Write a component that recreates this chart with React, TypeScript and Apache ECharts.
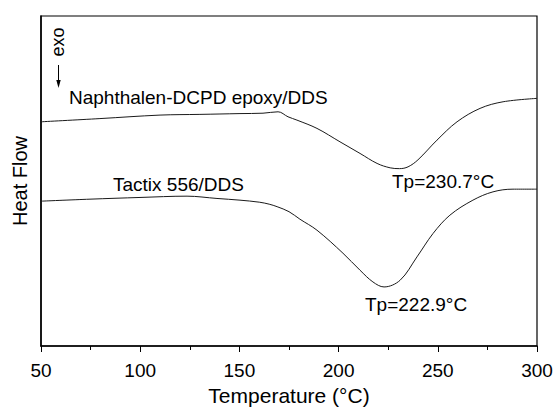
import React, { useEffect, useRef } from "react";
import * as echarts from "echarts";

// DSC curves, temperature (°C) vs. heat flow (arbitrary units, exo down)
const naphTemp = [50, 79.7, 110, 130.1, 150.3, 161.9, 169.5, 174.5, 179, 189.1, 200.7, 210.8, 219.4, 226, 230.7, 235, 240, 249.6, 259.7, 271.3, 282.9, 300];
const naphFlow = [2.24, 2.272, 2.307, 2.314, 2.322, 2.326, 2.34, 2.29, 2.257, 2.174, 2.04, 1.924, 1.824, 1.78, 1.772, 1.79, 1.86, 2.057, 2.24, 2.374, 2.44, 2.474];

const tactixTemp = [50, 74.7, 99.9, 123.6, 138.7, 150.3, 160, 165, 169, 175, 180.5, 189.1, 202.2, 210.8, 217.3, 222.9, 231, 239.5, 247.6, 256.1, 267.7, 277.8, 287.9, 300];
const tactixFlow = [1.447, 1.467, 1.484, 1.497, 1.474, 1.457, 1.437, 1.417, 1.392, 1.342, 1.267, 1.157, 0.927, 0.757, 0.64, 0.59, 0.657, 0.89, 1.124, 1.307, 1.457, 1.54, 1.567, 1.567];

const xTicks = { min: 50, max: 300, interval: 50 };
const yRange = { min: 0, max: 3.297 };

const FONT = "'Liberation Sans', Arial, Helvetica, sans-serif";

export default function App() {
  const ref = useRef<HTMLDivElement>(null);

  useEffect(() => {
    if (!ref.current) return;
    const chart = echarts.init(ref.current, undefined, { renderer: "svg" });

    const toPairs = (xs: number[], ys: number[]) => xs.map((x, i) => [x, ys[i]]);
    const lineStyle = { color: "#1a1a1a", width: 1 };
    const note = (text: string, x: number, y: number) => ({
      type: "text",
      x,
      y,
      style: { text, fill: "#000", font: `19px ${FONT}`, verticalAlign: "middle" },
    });

    chart.setOption({
      animation: false,
      backgroundColor: "#fff",
      grid: {
        left: 41,
        right: 16,
        top: 16,
        bottom: 61,
        outerBoundsMode: "none",
        containLabel: false,
        show: true,
        borderColor: "#000",
        borderWidth: 1.2,
      },
      xAxis: {
        type: "value",
        min: xTicks.min,
        max: xTicks.max,
        interval: xTicks.interval,
        name: "Temperature (°C)",
        nameLocation: "middle",
        nameGap: 35,
        nameTextStyle: { color: "#000", fontSize: 21, fontFamily: FONT },
        axisLine: { show: true, lineStyle: { color: "#000", width: 1.5 } },
        axisTick: { show: true, inside: false, length: 6, lineStyle: { color: "#000", width: 1 } },
        minorTick: { show: true, splitNumber: 2, length: 4, lineStyle: { color: "#000", width: 1 } },
        axisLabel: { color: "#000", fontSize: 19, fontFamily: FONT, margin: 15 },
        splitLine: { show: false },
      },
      yAxis: {
        type: "value",
        min: yRange.min,
        max: yRange.max,
        name: "Heat Flow",
        nameLocation: "middle",
        nameGap: 11,
        nameTextStyle: { color: "#000", fontSize: 20, fontFamily: FONT },
        axisLine: { show: true, lineStyle: { color: "#000", width: 1.5 } },
        axisTick: { show: false },
        axisLabel: { show: false },
        splitLine: { show: false },
      },
      series: [
        {
          name: "Naphthalen-DCPD epoxy/DDS",
          type: "line",
          data: toPairs(naphTemp, naphFlow),
          smooth: 0.35,
          showSymbol: false,
          lineStyle,
        },
        {
          name: "Tactix 556/DDS",
          type: "line",
          data: toPairs(tactixTemp, tactixFlow),
          smooth: 0.35,
          showSymbol: false,
          lineStyle,
        },
      ],
      graphic: [
        {
          type: "text",
          x: 58,
          y: 42,
          rotation: Math.PI / 2,
          style: { text: "exo", fill: "#000", font: `18px ${FONT}`, align: "center", verticalAlign: "middle" },
        },
        {
          type: "line",
          shape: { x1: 58.5, y1: 65, x2: 58.5, y2: 82 },
          style: { stroke: "#000", lineWidth: 1 },
        },
        {
          type: "polygon",
          shape: { points: [[56.3, 80], [60.7, 80], [58.5, 88]] },
          style: { fill: "#000" },
        },
        note("Naphthalen-DCPD epoxy/DDS", 69, 97),
        note("Tactix 556/DDS", 113, 184),
        note("Tp=230.7°C", 392, 181),
        note("Tp=222.9°C", 365, 304),
      ],
    });

    return () => chart.dispose();
  }, []);

  return <div ref={ref} style={{ width: 553, height: 407, position: "absolute", left: 0, top: 0 }} />;
}
